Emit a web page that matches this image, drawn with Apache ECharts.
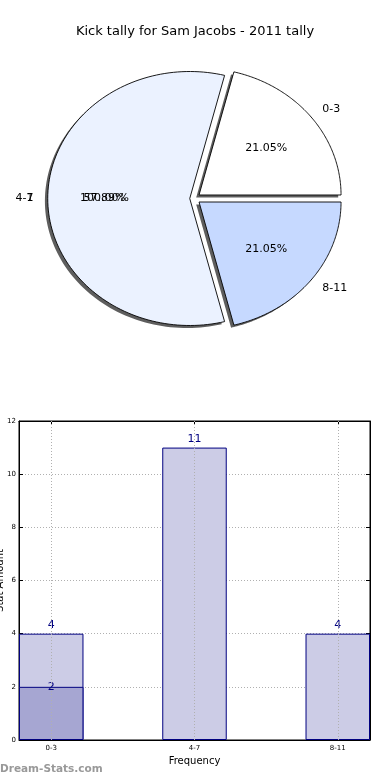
<!DOCTYPE html>
<html>
<head>
<meta charset="utf-8">
<script src="https://cdn.jsdelivr.net/npm/echarts@6/dist/echarts.min.js"></script>
<style>
html,body{margin:0;padding:0;background:#fff;}
#c{width:390px;height:780px;}
</style>
</head>
<body>
<div id="c"></div>
<script>
// ---- data ----
const titleText = 'Kick tally for Sam Jacobs - 2011 tally';
const categories = ['0-3', '4-7', '8-11'];
const pieValues = [4, 11, 4];
const hiddenPieNames = ['1'];
const hiddenPieValues = [1];
const barValues = [4, 11, 4];
const overlayCategories = ['0-3'];
const overlayValues = [2];
const yAxisName = 'Stat Amount';
const xAxisName = 'Frequency';
const watermark = 'Dream-Stats.com';

// ---- styling / layout ----
const FONT = 'DejaVu Sans';
const pieColors = ['#ffffff', '#ebf2ff', '#c6d9ff'];
const pieExplode = [0.045, 0.03, 0.045];
const hiddenExplode = [0.03];
const barFill = '#ccccE6';
const barFill2 = '#a6a6d2';
const navy = '#000080';

const chart = echarts.init(document.getElementById('c'), null, {renderer: 'canvas'});

function makePieRender(values, names, explode, drawShapes, colors) {
  const total = values.reduce((a, b) => a + b, 0);
  return function (params, api) {
    const i = params.dataIndex;
    let before = 0;
    for (let k = 0; k < i; k++) before += values[k];
    const start = before / total * Math.PI * 2;
    const end = (before + values[i]) / total * Math.PI * 2;
    const mid = (start + end) / 2;
    const ex = explode[i];
    const cx = ex * Math.cos(mid), cy = ex * Math.sin(mid);
    const children = [];
    if (drawShapes) {
      const N = 120;
      const pts = [], sh = [];
      pts.push(api.coord([cx, cy]));
      sh.push(api.coord([cx - 0.02, cy - 0.02]));
      for (let k = 0; k <= N; k++) {
        const a = start + (end - start) * k / N;
        pts.push(api.coord([cx + Math.cos(a), cy + Math.sin(a)]));
        sh.push(api.coord([cx - 0.02 + Math.cos(a), cy - 0.02 + Math.sin(a)]));
      }
      children.push({type: 'polygon', z2: 1, shape: {points: sh},
        style: {fill: 'rgba(40,40,40,0.75)', stroke: null}});
      children.push({type: 'polygon', z2: 10, shape: {points: pts},
        style: {fill: colors[i], stroke: '#000', lineWidth: 0.9}});
    }
    const lp = api.coord([cx + 1.1 * Math.cos(mid), cy + 1.1 * Math.sin(mid)]);
    const pp = api.coord([cx + 0.6 * Math.cos(mid), cy + 0.6 * Math.sin(mid)]);
    children.push({type: 'text', z2: 20, x: lp[0], y: lp[1],
      style: {text: names[i], fontFamily: FONT, fontSize: 11, fill: '#000',
        align: Math.cos(mid) > 0.001 ? 'left' : 'right', verticalAlign: 'middle'}});
    children.push({type: 'text', z2: 20, x: pp[0], y: pp[1],
      style: {text: (values[i] / total * 100).toFixed(2) + '%', fontFamily: FONT, fontSize: 11,
        fill: '#000', align: 'center', verticalAlign: 'middle'}});
    return {type: 'group', children: children};
  };
}

const positions = categories.map((c, i) => i);
const barData = barValues.map((v, i) => [positions[i], v]);
const overlayData = overlayValues.map((v, i) => [categories.indexOf(overlayCategories[i]), v]);

const barGrid = {left: 19, top: 421, width: 351, height: 319};
const xMin = -0.225, xMax = 2.225;
const barW = barGrid.width * 0.45 / (xMax - xMin);
const dotted = {type: [1, 2], color: '#b0b0b0', width: 1};

const option = {
  animation: false,
  backgroundColor: '#fff',
  title: [
    {text: titleText, left: 'center', top: 20,
      textStyle: {fontFamily: FONT, fontSize: 13, fontWeight: 'normal', color: '#000'}},
    {text: watermark, left: 0, top: 764, padding: 0,
      textStyle: {fontFamily: FONT, fontSize: 10.5, fontWeight: 'bold', color: '#999'}}
  ],
  grid: [
    Object.assign({show: true, borderColor: '#000', borderWidth: 1, containLabel: false, outerBoundsMode: 'none'}, barGrid),
    {left: 9.4, top: 33.4, width: 369.2, height: 330.2, show: false, outerBoundsMode: 'none'}
  ],
  xAxis: [
    {type: 'value', gridIndex: 0, min: xMin, max: xMax, position: 'bottom',
      name: xAxisName, nameLocation: 'middle', nameGap: 16,
      nameTextStyle: {fontFamily: FONT, fontSize: 10, color: '#000'},
      axisLine: {show: true, onZero: false, lineStyle: {color: '#000'}},
      axisTick: {show: true, inside: true, length: 4, customValues: positions, lineStyle: {color: '#000'}},
      axisLabel: {show: true, customValues: positions, fontFamily: FONT, fontSize: 7, color: '#000', margin: 5,
        formatter: v => categories[Math.round(v)] || ''},
      splitLine: {show: false}},
    {type: 'value', gridIndex: 0, min: xMin, max: xMax, position: 'top',
      axisLine: {show: true, onZero: false, lineStyle: {color: '#000'}},
      axisTick: {show: true, inside: true, length: 4, customValues: positions, lineStyle: {color: '#000'}},
      axisLabel: {show: false}, splitLine: {show: false}},
    {type: 'value', gridIndex: 1, min: -1.3, max: 1.3, show: false}
  ],
  yAxis: [
    {type: 'value', gridIndex: 0, min: 0, max: 12, interval: 2, position: 'left',
      name: yAxisName, nameLocation: 'middle', nameGap: 14, nameRotate: 90, nameMoveOverlap: false,
      nameTextStyle: {fontFamily: FONT, fontSize: 10, color: '#000'},
      axisLine: {show: true, onZero: false, lineStyle: {color: '#000'}},
      axisTick: {show: true, inside: true, length: 4, lineStyle: {color: '#000'}},
      axisLabel: {fontFamily: FONT, fontSize: 7, color: '#000', margin: 3},
      splitLine: {show: true, lineStyle: dotted}},
    {type: 'value', gridIndex: 0, min: 0, max: 12, interval: 2, position: 'right',
      axisLine: {show: true, onZero: false, lineStyle: {color: '#000'}},
      axisTick: {show: true, inside: true, length: 4, lineStyle: {color: '#000'}},
      axisLabel: {show: false}, splitLine: {show: false}},
    {type: 'value', gridIndex: 1, min: -1.3, max: 1.3, show: false}
  ],
  series: [
    {type: 'custom', xAxisIndex: 2, yAxisIndex: 2, silent: true, z: 4,
      renderItem: makePieRender(hiddenPieValues, hiddenPieNames, hiddenExplode, false, pieColors),
      data: hiddenPieValues},
    {type: 'custom', xAxisIndex: 2, yAxisIndex: 2, silent: true, z: 3,
      renderItem: makePieRender(pieValues, categories, pieExplode, true, pieColors),
      data: pieValues},
    {type: 'bar', xAxisIndex: 0, yAxisIndex: 0, data: barData, barWidth: barW, barGap: '-100%',
      itemStyle: {color: barFill, borderColor: navy, borderWidth: 1},
      label: {show: true, position: 'top', distance: 3, color: navy, fontFamily: FONT, fontSize: 11},
      markLine: {silent: true, symbol: 'none', label: {show: false}, lineStyle: dotted,
        data: positions.map(p => ({xAxis: p}))}},
    {type: 'bar', xAxisIndex: 0, yAxisIndex: 0, data: overlayData, barWidth: barW, barGap: '-100%',
      itemStyle: {color: barFill2, borderColor: navy, borderWidth: 1},
      label: {show: true, position: 'top', distance: -6, color: navy, fontFamily: FONT, fontSize: 11}}
  ]
};
chart.setOption(option);
</script>
</body>
</html>
